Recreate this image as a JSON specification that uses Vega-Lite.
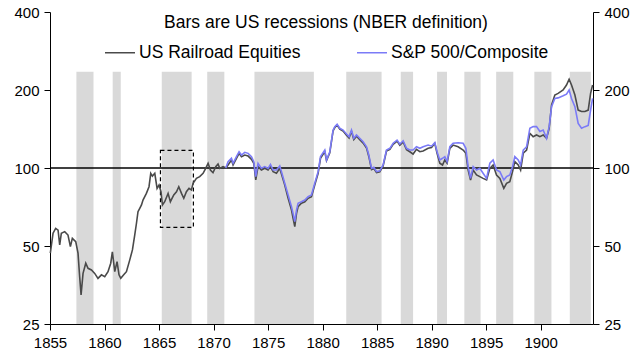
{
  "$schema": "https://vega.github.io/schema/vega-lite/v6.json",
  "autosize": {"type": "none"},
  "width": 543,
  "height": 312,
  "padding": {"left": 50, "top": 12, "right": 50, "bottom": 32},
  "background": "white",
  "config": {
    "view": {"stroke": null},
    "font": "Liberation Sans",
    "axis": {
      "labelFont": "Liberation Sans",
      "labelFontSize": 15,
      "labelColor": "#000000",
      "domainColor": "#000000",
      "tickColor": "#000000",
      "grid": false,
      "tickSize": 6,
      "labelPadding": 5,
      "title": null
    },
    "legend": {
      "labelFont": "Liberation Sans",
      "titleFont": "Liberation Sans"
    }
  },
  "datasets": {
    "recessions": [
      {"start": 1857.42, "end": 1858.99},
      {"start": 1860.75, "end": 1861.49},
      {"start": 1865.25, "end": 1867.99},
      {"start": 1869.42, "end": 1870.99},
      {"start": 1873.75, "end": 1879.2},
      {"start": 1882.17, "end": 1885.41},
      {"start": 1887.17, "end": 1888.3},
      {"start": 1890.5, "end": 1891.41},
      {"start": 1893.0, "end": 1894.49},
      {"start": 1895.92, "end": 1897.49},
      {"start": 1899.42, "end": 1900.99},
      {"start": 1902.67, "end": 1904.6}
    ],
    "series": [
      {"t": 1855.03, "v": 46.9, "s": "US Railroad Equities"},
      {"t": 1855.28, "v": 56.0, "s": "US Railroad Equities"},
      {"t": 1855.52, "v": 58.5, "s": "US Railroad Equities"},
      {"t": 1855.74, "v": 57.6, "s": "US Railroad Equities"},
      {"t": 1855.89, "v": 50.5, "s": "US Railroad Equities"},
      {"t": 1856.04, "v": 56.0, "s": "US Railroad Equities"},
      {"t": 1856.35, "v": 56.8, "s": "US Railroad Equities"},
      {"t": 1856.65, "v": 55.1, "s": "US Railroad Equities"},
      {"t": 1856.87, "v": 49.7, "s": "US Railroad Equities"},
      {"t": 1857.05, "v": 53.5, "s": "US Railroad Equities"},
      {"t": 1857.36, "v": 52.0, "s": "US Railroad Equities"},
      {"t": 1857.57, "v": 46.9, "s": "US Railroad Equities"},
      {"t": 1857.72, "v": 38.1, "s": "US Railroad Equities"},
      {"t": 1857.85, "v": 32.4, "s": "US Railroad Equities"},
      {"t": 1858.03, "v": 39.2, "s": "US Railroad Equities"},
      {"t": 1858.28, "v": 42.9, "s": "US Railroad Equities"},
      {"t": 1858.49, "v": 41.0, "s": "US Railroad Equities"},
      {"t": 1858.8, "v": 40.4, "s": "US Railroad Equities"},
      {"t": 1859.1, "v": 39.2, "s": "US Railroad Equities"},
      {"t": 1859.4, "v": 37.5, "s": "US Railroad Equities"},
      {"t": 1859.72, "v": 38.7, "s": "US Railroad Equities"},
      {"t": 1860.02, "v": 38.1, "s": "US Railroad Equities"},
      {"t": 1860.32, "v": 39.8, "s": "US Railroad Equities"},
      {"t": 1860.57, "v": 42.9, "s": "US Railroad Equities"},
      {"t": 1860.72, "v": 47.5, "s": "US Railroad Equities"},
      {"t": 1860.94, "v": 39.8, "s": "US Railroad Equities"},
      {"t": 1861.15, "v": 43.5, "s": "US Railroad Equities"},
      {"t": 1861.33, "v": 38.7, "s": "US Railroad Equities"},
      {"t": 1861.49, "v": 37.5, "s": "US Railroad Equities"},
      {"t": 1861.76, "v": 38.7, "s": "US Railroad Equities"},
      {"t": 1862.01, "v": 39.8, "s": "US Railroad Equities"},
      {"t": 1862.31, "v": 44.1, "s": "US Railroad Equities"},
      {"t": 1862.56, "v": 48.3, "s": "US Railroad Equities"},
      {"t": 1862.77, "v": 55.1, "s": "US Railroad Equities"},
      {"t": 1862.93, "v": 61.2, "s": "US Railroad Equities"},
      {"t": 1863.07, "v": 67.8, "s": "US Railroad Equities"},
      {"t": 1863.23, "v": 69.9, "s": "US Railroad Equities"},
      {"t": 1863.39, "v": 72.0, "s": "US Railroad Equities"},
      {"t": 1863.53, "v": 75.2, "s": "US Railroad Equities"},
      {"t": 1863.84, "v": 79.8, "s": "US Railroad Equities"},
      {"t": 1864.08, "v": 84.7, "s": "US Railroad Equities"},
      {"t": 1864.24, "v": 95.4, "s": "US Railroad Equities"},
      {"t": 1864.39, "v": 93.1, "s": "US Railroad Equities"},
      {"t": 1864.61, "v": 95.4, "s": "US Railroad Equities"},
      {"t": 1864.82, "v": 83.5, "s": "US Railroad Equities"},
      {"t": 1865.0, "v": 86.0, "s": "US Railroad Equities"},
      {"t": 1865.18, "v": 81.0, "s": "US Railroad Equities"},
      {"t": 1865.31, "v": 72.0, "s": "US Railroad Equities"},
      {"t": 1865.52, "v": 74.1, "s": "US Railroad Equities"},
      {"t": 1865.83, "v": 79.8, "s": "US Railroad Equities"},
      {"t": 1866.04, "v": 74.1, "s": "US Railroad Equities"},
      {"t": 1866.35, "v": 78.7, "s": "US Railroad Equities"},
      {"t": 1866.6, "v": 81.0, "s": "US Railroad Equities"},
      {"t": 1866.81, "v": 84.7, "s": "US Railroad Equities"},
      {"t": 1867.06, "v": 79.8, "s": "US Railroad Equities"},
      {"t": 1867.27, "v": 76.4, "s": "US Railroad Equities"},
      {"t": 1867.51, "v": 81.0, "s": "US Railroad Equities"},
      {"t": 1867.75, "v": 83.5, "s": "US Railroad Equities"},
      {"t": 1867.97, "v": 82.3, "s": "US Railroad Equities"},
      {"t": 1868.12, "v": 87.3, "s": "US Railroad Equities"},
      {"t": 1868.43, "v": 91.2, "s": "US Railroad Equities"},
      {"t": 1868.73, "v": 92.6, "s": "US Railroad Equities"},
      {"t": 1869.04, "v": 95.4, "s": "US Railroad Equities"},
      {"t": 1869.28, "v": 99.7, "s": "US Railroad Equities"},
      {"t": 1869.5, "v": 104.3, "s": "US Railroad Equities"},
      {"t": 1869.71, "v": 98.2, "s": "US Railroad Equities"},
      {"t": 1869.95, "v": 95.9, "s": "US Railroad Equities"},
      {"t": 1870.2, "v": 101.2, "s": "US Railroad Equities"},
      {"t": 1870.41, "v": 103.6, "s": "US Railroad Equities"},
      {"t": 1870.57, "v": 99.7, "s": "US Railroad Equities"},
      {"t": 1870.87, "v": 101.2, "s": "US Railroad Equities"},
      {"t": 1871.12, "v": 100.0, "s": "US Railroad Equities"},
      {"t": 1871.33, "v": 102.7, "s": "US Railroad Equities"},
      {"t": 1871.64, "v": 107.4, "s": "US Railroad Equities"},
      {"t": 1871.79, "v": 102.7, "s": "US Railroad Equities"},
      {"t": 1872.1, "v": 109.0, "s": "US Railroad Equities"},
      {"t": 1872.34, "v": 113.9, "s": "US Railroad Equities"},
      {"t": 1872.56, "v": 110.6, "s": "US Railroad Equities"},
      {"t": 1872.86, "v": 112.2, "s": "US Railroad Equities"},
      {"t": 1873.17, "v": 111.2, "s": "US Railroad Equities"},
      {"t": 1873.48, "v": 108.0, "s": "US Railroad Equities"},
      {"t": 1873.69, "v": 104.3, "s": "US Railroad Equities"},
      {"t": 1873.87, "v": 89.9, "s": "US Railroad Equities"},
      {"t": 1874.08, "v": 101.2, "s": "US Railroad Equities"},
      {"t": 1874.39, "v": 98.2, "s": "US Railroad Equities"},
      {"t": 1874.7, "v": 99.7, "s": "US Railroad Equities"},
      {"t": 1875.0, "v": 98.2, "s": "US Railroad Equities"},
      {"t": 1875.22, "v": 101.2, "s": "US Railroad Equities"},
      {"t": 1875.46, "v": 96.8, "s": "US Railroad Equities"},
      {"t": 1875.77, "v": 95.4, "s": "US Railroad Equities"},
      {"t": 1876.07, "v": 99.7, "s": "US Railroad Equities"},
      {"t": 1876.23, "v": 94.8, "s": "US Railroad Equities"},
      {"t": 1876.53, "v": 86.0, "s": "US Railroad Equities"},
      {"t": 1876.84, "v": 76.4, "s": "US Railroad Equities"},
      {"t": 1877.15, "v": 68.8, "s": "US Railroad Equities"},
      {"t": 1877.29, "v": 64.0, "s": "US Railroad Equities"},
      {"t": 1877.45, "v": 59.4, "s": "US Railroad Equities"},
      {"t": 1877.61, "v": 66.8, "s": "US Railroad Equities"},
      {"t": 1877.75, "v": 70.9, "s": "US Railroad Equities"},
      {"t": 1878.06, "v": 73.1, "s": "US Railroad Equities"},
      {"t": 1878.37, "v": 74.1, "s": "US Railroad Equities"},
      {"t": 1878.67, "v": 76.4, "s": "US Railroad Equities"},
      {"t": 1878.98, "v": 77.5, "s": "US Railroad Equities"},
      {"t": 1879.28, "v": 86.0, "s": "US Railroad Equities"},
      {"t": 1879.59, "v": 95.4, "s": "US Railroad Equities"},
      {"t": 1879.81, "v": 109.0, "s": "US Railroad Equities"},
      {"t": 1880.2, "v": 115.6, "s": "US Railroad Equities"},
      {"t": 1880.36, "v": 106.9, "s": "US Railroad Equities"},
      {"t": 1880.66, "v": 114.5, "s": "US Railroad Equities"},
      {"t": 1880.96, "v": 139.0, "s": "US Railroad Equities"},
      {"t": 1881.12, "v": 143.3, "s": "US Railroad Equities"},
      {"t": 1881.33, "v": 146.4, "s": "US Railroad Equities"},
      {"t": 1881.58, "v": 141.3, "s": "US Railroad Equities"},
      {"t": 1881.88, "v": 138.8, "s": "US Railroad Equities"},
      {"t": 1882.19, "v": 133.8, "s": "US Railroad Equities"},
      {"t": 1882.43, "v": 130.6, "s": "US Railroad Equities"},
      {"t": 1882.65, "v": 138.5, "s": "US Railroad Equities"},
      {"t": 1882.86, "v": 128.7, "s": "US Railroad Equities"},
      {"t": 1883.11, "v": 132.6, "s": "US Railroad Equities"},
      {"t": 1883.41, "v": 128.7, "s": "US Railroad Equities"},
      {"t": 1883.72, "v": 124.8, "s": "US Railroad Equities"},
      {"t": 1884.03, "v": 119.3, "s": "US Railroad Equities"},
      {"t": 1884.24, "v": 110.8, "s": "US Railroad Equities"},
      {"t": 1884.49, "v": 98.6, "s": "US Railroad Equities"},
      {"t": 1884.7, "v": 99.5, "s": "US Railroad Equities"},
      {"t": 1884.95, "v": 96.0, "s": "US Railroad Equities"},
      {"t": 1885.25, "v": 96.6, "s": "US Railroad Equities"},
      {"t": 1885.55, "v": 101.8, "s": "US Railroad Equities"},
      {"t": 1885.86, "v": 116.2, "s": "US Railroad Equities"},
      {"t": 1886.17, "v": 118.0, "s": "US Railroad Equities"},
      {"t": 1886.47, "v": 123.4, "s": "US Railroad Equities"},
      {"t": 1886.83, "v": 127.0, "s": "US Railroad Equities"},
      {"t": 1887.08, "v": 122.5, "s": "US Railroad Equities"},
      {"t": 1887.39, "v": 126.2, "s": "US Railroad Equities"},
      {"t": 1887.7, "v": 117.6, "s": "US Railroad Equities"},
      {"t": 1888.0, "v": 115.5, "s": "US Railroad Equities"},
      {"t": 1888.3, "v": 113.2, "s": "US Railroad Equities"},
      {"t": 1888.61, "v": 118.1, "s": "US Railroad Equities"},
      {"t": 1888.92, "v": 115.6, "s": "US Railroad Equities"},
      {"t": 1889.22, "v": 116.4, "s": "US Railroad Equities"},
      {"t": 1889.68, "v": 119.1, "s": "US Railroad Equities"},
      {"t": 1889.99, "v": 120.0, "s": "US Railroad Equities"},
      {"t": 1890.29, "v": 124.6, "s": "US Railroad Equities"},
      {"t": 1890.5, "v": 114.0, "s": "US Railroad Equities"},
      {"t": 1890.75, "v": 104.3, "s": "US Railroad Equities"},
      {"t": 1891.0, "v": 102.7, "s": "US Railroad Equities"},
      {"t": 1891.21, "v": 107.4, "s": "US Railroad Equities"},
      {"t": 1891.42, "v": 104.3, "s": "US Railroad Equities"},
      {"t": 1891.67, "v": 119.1, "s": "US Railroad Equities"},
      {"t": 1891.97, "v": 122.6, "s": "US Railroad Equities"},
      {"t": 1892.43, "v": 120.8, "s": "US Railroad Equities"},
      {"t": 1892.89, "v": 117.3, "s": "US Railroad Equities"},
      {"t": 1893.14, "v": 114.0, "s": "US Railroad Equities"},
      {"t": 1893.35, "v": 98.2, "s": "US Railroad Equities"},
      {"t": 1893.57, "v": 89.9, "s": "US Railroad Equities"},
      {"t": 1893.81, "v": 98.2, "s": "US Railroad Equities"},
      {"t": 1894.12, "v": 94.0, "s": "US Railroad Equities"},
      {"t": 1894.42, "v": 92.6, "s": "US Railroad Equities"},
      {"t": 1894.72, "v": 91.2, "s": "US Railroad Equities"},
      {"t": 1895.04, "v": 89.9, "s": "US Railroad Equities"},
      {"t": 1895.34, "v": 99.7, "s": "US Railroad Equities"},
      {"t": 1895.64, "v": 102.7, "s": "US Railroad Equities"},
      {"t": 1895.95, "v": 94.0, "s": "US Railroad Equities"},
      {"t": 1896.26, "v": 91.2, "s": "US Railroad Equities"},
      {"t": 1896.62, "v": 83.5, "s": "US Railroad Equities"},
      {"t": 1896.87, "v": 87.3, "s": "US Railroad Equities"},
      {"t": 1897.17, "v": 88.5, "s": "US Railroad Equities"},
      {"t": 1897.42, "v": 96.8, "s": "US Railroad Equities"},
      {"t": 1897.63, "v": 105.8, "s": "US Railroad Equities"},
      {"t": 1897.94, "v": 102.7, "s": "US Railroad Equities"},
      {"t": 1898.16, "v": 98.2, "s": "US Railroad Equities"},
      {"t": 1898.4, "v": 114.0, "s": "US Railroad Equities"},
      {"t": 1898.71, "v": 117.3, "s": "US Railroad Equities"},
      {"t": 1899.01, "v": 136.1, "s": "US Railroad Equities"},
      {"t": 1899.31, "v": 132.1, "s": "US Railroad Equities"},
      {"t": 1899.62, "v": 134.1, "s": "US Railroad Equities"},
      {"t": 1899.93, "v": 132.1, "s": "US Railroad Equities"},
      {"t": 1900.23, "v": 134.1, "s": "US Railroad Equities"},
      {"t": 1900.54, "v": 130.2, "s": "US Railroad Equities"},
      {"t": 1900.78, "v": 142.3, "s": "US Railroad Equities"},
      {"t": 1901.0, "v": 175.0, "s": "US Railroad Equities"},
      {"t": 1901.3, "v": 191.3, "s": "US Railroad Equities"},
      {"t": 1901.6, "v": 194.0, "s": "US Railroad Equities"},
      {"t": 1902.06, "v": 200.0, "s": "US Railroad Equities"},
      {"t": 1902.37, "v": 209.0, "s": "US Railroad Equities"},
      {"t": 1902.61, "v": 220.0, "s": "US Railroad Equities"},
      {"t": 1902.83, "v": 209.0, "s": "US Railroad Equities"},
      {"t": 1903.14, "v": 191.3, "s": "US Railroad Equities"},
      {"t": 1903.44, "v": 167.3, "s": "US Railroad Equities"},
      {"t": 1903.75, "v": 165.3, "s": "US Railroad Equities"},
      {"t": 1904.06, "v": 165.3, "s": "US Railroad Equities"},
      {"t": 1904.36, "v": 167.3, "s": "US Railroad Equities"},
      {"t": 1904.58, "v": 194.0, "s": "US Railroad Equities"},
      {"t": 1904.76, "v": 209.0, "s": "US Railroad Equities"},

      {"t": 1871.12, "v": 100.0, "s": "S&P 500/Composite"},
      {"t": 1871.33, "v": 105.8, "s": "S&P 500/Composite"},
      {"t": 1871.64, "v": 109.0, "s": "S&P 500/Composite"},
      {"t": 1871.79, "v": 104.3, "s": "S&P 500/Composite"},
      {"t": 1872.1, "v": 110.6, "s": "S&P 500/Composite"},
      {"t": 1872.34, "v": 115.6, "s": "S&P 500/Composite"},
      {"t": 1872.56, "v": 112.2, "s": "S&P 500/Composite"},
      {"t": 1872.86, "v": 115.0, "s": "S&P 500/Composite"},
      {"t": 1873.17, "v": 113.9, "s": "S&P 500/Composite"},
      {"t": 1873.48, "v": 110.6, "s": "S&P 500/Composite"},
      {"t": 1873.69, "v": 105.8, "s": "S&P 500/Composite"},
      {"t": 1873.87, "v": 92.6, "s": "S&P 500/Composite"},
      {"t": 1874.08, "v": 104.3, "s": "S&P 500/Composite"},
      {"t": 1874.39, "v": 99.7, "s": "S&P 500/Composite"},
      {"t": 1874.7, "v": 101.2, "s": "S&P 500/Composite"},
      {"t": 1875.0, "v": 99.7, "s": "S&P 500/Composite"},
      {"t": 1875.22, "v": 103.3, "s": "S&P 500/Composite"},
      {"t": 1875.46, "v": 98.2, "s": "S&P 500/Composite"},
      {"t": 1875.77, "v": 98.2, "s": "S&P 500/Composite"},
      {"t": 1876.07, "v": 101.8, "s": "S&P 500/Composite"},
      {"t": 1876.23, "v": 96.8, "s": "S&P 500/Composite"},
      {"t": 1876.53, "v": 87.3, "s": "S&P 500/Composite"},
      {"t": 1876.84, "v": 78.7, "s": "S&P 500/Composite"},
      {"t": 1877.15, "v": 70.9, "s": "S&P 500/Composite"},
      {"t": 1877.29, "v": 66.8, "s": "S&P 500/Composite"},
      {"t": 1877.45, "v": 62.1, "s": "S&P 500/Composite"},
      {"t": 1877.61, "v": 68.8, "s": "S&P 500/Composite"},
      {"t": 1877.75, "v": 73.1, "s": "S&P 500/Composite"},
      {"t": 1878.06, "v": 74.1, "s": "S&P 500/Composite"},
      {"t": 1878.37, "v": 75.2, "s": "S&P 500/Composite"},
      {"t": 1878.67, "v": 77.5, "s": "S&P 500/Composite"},
      {"t": 1878.98, "v": 78.7, "s": "S&P 500/Composite"},
      {"t": 1879.28, "v": 87.3, "s": "S&P 500/Composite"},
      {"t": 1879.59, "v": 96.8, "s": "S&P 500/Composite"},
      {"t": 1879.81, "v": 110.6, "s": "S&P 500/Composite"},
      {"t": 1880.2, "v": 117.3, "s": "S&P 500/Composite"},
      {"t": 1880.36, "v": 107.4, "s": "S&P 500/Composite"},
      {"t": 1880.66, "v": 115.6, "s": "S&P 500/Composite"},
      {"t": 1880.96, "v": 140.0, "s": "S&P 500/Composite"},
      {"t": 1881.12, "v": 144.4, "s": "S&P 500/Composite"},
      {"t": 1881.33, "v": 147.4, "s": "S&P 500/Composite"},
      {"t": 1881.58, "v": 142.3, "s": "S&P 500/Composite"},
      {"t": 1881.88, "v": 140.1, "s": "S&P 500/Composite"},
      {"t": 1882.19, "v": 135.3, "s": "S&P 500/Composite"},
      {"t": 1882.43, "v": 132.1, "s": "S&P 500/Composite"},
      {"t": 1882.65, "v": 140.1, "s": "S&P 500/Composite"},
      {"t": 1882.86, "v": 130.2, "s": "S&P 500/Composite"},
      {"t": 1883.11, "v": 134.1, "s": "S&P 500/Composite"},
      {"t": 1883.41, "v": 130.2, "s": "S&P 500/Composite"},
      {"t": 1883.72, "v": 126.3, "s": "S&P 500/Composite"},
      {"t": 1884.03, "v": 120.8, "s": "S&P 500/Composite"},
      {"t": 1884.24, "v": 112.2, "s": "S&P 500/Composite"},
      {"t": 1884.49, "v": 99.7, "s": "S&P 500/Composite"},
      {"t": 1884.7, "v": 100.6, "s": "S&P 500/Composite"},
      {"t": 1884.95, "v": 96.8, "s": "S&P 500/Composite"},
      {"t": 1885.25, "v": 97.5, "s": "S&P 500/Composite"},
      {"t": 1885.55, "v": 102.7, "s": "S&P 500/Composite"},
      {"t": 1885.86, "v": 117.3, "s": "S&P 500/Composite"},
      {"t": 1886.17, "v": 119.1, "s": "S&P 500/Composite"},
      {"t": 1886.47, "v": 124.6, "s": "S&P 500/Composite"},
      {"t": 1886.83, "v": 128.2, "s": "S&P 500/Composite"},
      {"t": 1887.08, "v": 123.8, "s": "S&P 500/Composite"},
      {"t": 1887.39, "v": 127.4, "s": "S&P 500/Composite"},
      {"t": 1887.7, "v": 119.1, "s": "S&P 500/Composite"},
      {"t": 1888.0, "v": 117.3, "s": "S&P 500/Composite"},
      {"t": 1888.3, "v": 117.3, "s": "S&P 500/Composite"},
      {"t": 1888.61, "v": 120.8, "s": "S&P 500/Composite"},
      {"t": 1888.92, "v": 119.1, "s": "S&P 500/Composite"},
      {"t": 1889.22, "v": 120.8, "s": "S&P 500/Composite"},
      {"t": 1889.68, "v": 122.6, "s": "S&P 500/Composite"},
      {"t": 1889.99, "v": 121.4, "s": "S&P 500/Composite"},
      {"t": 1890.29, "v": 125.2, "s": "S&P 500/Composite"},
      {"t": 1890.5, "v": 115.6, "s": "S&P 500/Composite"},
      {"t": 1890.75, "v": 107.4, "s": "S&P 500/Composite"},
      {"t": 1891.0, "v": 109.0, "s": "S&P 500/Composite"},
      {"t": 1891.21, "v": 110.6, "s": "S&P 500/Composite"},
      {"t": 1891.42, "v": 105.8, "s": "S&P 500/Composite"},
      {"t": 1891.67, "v": 120.8, "s": "S&P 500/Composite"},
      {"t": 1891.97, "v": 124.6, "s": "S&P 500/Composite"},
      {"t": 1892.43, "v": 125.2, "s": "S&P 500/Composite"},
      {"t": 1892.89, "v": 124.6, "s": "S&P 500/Composite"},
      {"t": 1893.14, "v": 119.1, "s": "S&P 500/Composite"},
      {"t": 1893.35, "v": 101.2, "s": "S&P 500/Composite"},
      {"t": 1893.57, "v": 91.2, "s": "S&P 500/Composite"},
      {"t": 1893.81, "v": 101.2, "s": "S&P 500/Composite"},
      {"t": 1894.12, "v": 98.2, "s": "S&P 500/Composite"},
      {"t": 1894.42, "v": 99.7, "s": "S&P 500/Composite"},
      {"t": 1894.72, "v": 95.4, "s": "S&P 500/Composite"},
      {"t": 1895.04, "v": 91.2, "s": "S&P 500/Composite"},
      {"t": 1895.34, "v": 104.3, "s": "S&P 500/Composite"},
      {"t": 1895.64, "v": 107.4, "s": "S&P 500/Composite"},
      {"t": 1895.95, "v": 98.2, "s": "S&P 500/Composite"},
      {"t": 1896.26, "v": 96.8, "s": "S&P 500/Composite"},
      {"t": 1896.62, "v": 89.9, "s": "S&P 500/Composite"},
      {"t": 1896.87, "v": 92.6, "s": "S&P 500/Composite"},
      {"t": 1897.17, "v": 94.0, "s": "S&P 500/Composite"},
      {"t": 1897.42, "v": 101.2, "s": "S&P 500/Composite"},
      {"t": 1897.63, "v": 110.6, "s": "S&P 500/Composite"},
      {"t": 1897.94, "v": 107.4, "s": "S&P 500/Composite"},
      {"t": 1898.16, "v": 102.7, "s": "S&P 500/Composite"},
      {"t": 1898.4, "v": 117.3, "s": "S&P 500/Composite"},
      {"t": 1898.71, "v": 120.8, "s": "S&P 500/Composite"},
      {"t": 1899.01, "v": 142.3, "s": "S&P 500/Composite"},
      {"t": 1899.31, "v": 144.4, "s": "S&P 500/Composite"},
      {"t": 1899.62, "v": 144.4, "s": "S&P 500/Composite"},
      {"t": 1899.93, "v": 138.3, "s": "S&P 500/Composite"},
      {"t": 1900.23, "v": 140.1, "s": "S&P 500/Composite"},
      {"t": 1900.54, "v": 130.2, "s": "S&P 500/Composite"},
      {"t": 1900.78, "v": 144.4, "s": "S&P 500/Composite"},
      {"t": 1901.0, "v": 172.5, "s": "S&P 500/Composite"},
      {"t": 1901.3, "v": 185.5, "s": "S&P 500/Composite"},
      {"t": 1901.6, "v": 186.5, "s": "S&P 500/Composite"},
      {"t": 1902.06, "v": 190.0, "s": "S&P 500/Composite"},
      {"t": 1902.37, "v": 192.7, "s": "S&P 500/Composite"},
      {"t": 1902.61, "v": 200.0, "s": "S&P 500/Composite"},
      {"t": 1902.83, "v": 185.5, "s": "S&P 500/Composite"},
      {"t": 1903.14, "v": 172.5, "s": "S&P 500/Composite"},
      {"t": 1903.44, "v": 148.7, "s": "S&P 500/Composite"},
      {"t": 1903.75, "v": 142.3, "s": "S&P 500/Composite"},
      {"t": 1904.06, "v": 144.4, "s": "S&P 500/Composite"},
      {"t": 1904.36, "v": 146.0, "s": "S&P 500/Composite"},
      {"t": 1904.58, "v": 167.3, "s": "S&P 500/Composite"},
      {"t": 1904.76, "v": 185.5, "s": "S&P 500/Composite"}
    ]
  },
  "layer": [
    {
      "data": {"name": "recessions"},
      "mark": {"type": "rect", "color": "#d9d9d9"},
      "encoding": {
        "x": {"field": "start", "type": "quantitative",
              "scale": {"domain": [1855, 1904.8], "nice": false, "zero": false},
              "axis": {"values": [1855, 1860, 1865, 1870, 1875, 1880, 1885, 1890, 1895, 1900], "format": "d", "labelFlush": false}},
        "x2": {"field": "end"},
        "y": {"datum": 25, "type": "quantitative",
              "scale": {"type": "log", "domain": [25, 400], "nice": false},
              "axis": {"values": [25, 50, 100, 200, 400], "orient": "left"}},
        "y2": {"datum": 235}
      }
    },
    {
      "data": {"values": [{}]},
      "mark": {"type": "rule", "color": "#000000", "strokeWidth": 1.5},
      "encoding": {
        "y": {"datum": 100, "type": "quantitative",
              "axis": {"values": [25, 50, 100, 200, 400], "orient": "right"}}
      }
    },
    {
      "data": {"values": [{}]},
      "mark": {"type": "rect", "fill": null, "fillOpacity": 0, "stroke": "#000000", "strokeWidth": 1.2, "strokeDash": [4, 3]},
      "encoding": {
        "x": {"datum": 1865.13, "type": "quantitative"},
        "x2": {"datum": 1868.15},
        "y": {"datum": 59, "type": "quantitative", "axis": null},
        "y2": {"datum": 117}
      }
    },
    {
      "data": {"name": "series"},
      "mark": {"type": "line", "strokeWidth": 1.6},
      "encoding": {
        "x": {"field": "t", "type": "quantitative"},
        "y": {"field": "v", "type": "quantitative", "axis": null},
        "color": {
          "field": "s", "type": "nominal",
          "scale": {"domain": ["US Railroad Equities", "S&P 500/Composite"], "range": ["#4a4a4a", "#7b7bf7"]},
          "legend": {
            "title": "Bars are US recessions (NBER definition)",
            "orient": "none",
            "legendX": 54,
            "legendY": 2,
            "direction": "horizontal",
            "titleAnchor": "middle",
            "titleFontSize": 17.5,
            "titleFontWeight": "normal",
            "titleColor": "#000000",
            "titleLimit": 600,
            "titlePadding": 5,
            "labelFontSize": 17.5,
            "labelLimit": 400,
            "labelColor": "#000000",
            "symbolType": "stroke",
            "symbolSize": 900,
            "symbolStrokeWidth": 1.5,
            "labelOffset": 3,
            "columnPadding": 53
          }
        },
        "order": {"field": "s", "sort": "descending"}
      }
    }
  ],
  "resolve": {"axis": {"y": "independent"}}
}
